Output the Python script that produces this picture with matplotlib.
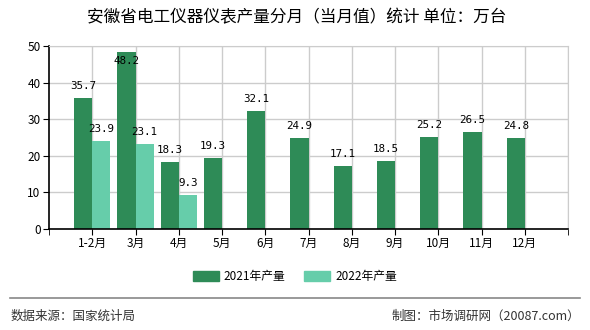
import numpy as np
import matplotlib.pyplot as plt
from matplotlib.patches import Patch

plt.rcParams['font.family'] = ['Noto Sans CJK SC', 'DejaVu Sans']

months = ['1-2月', '3月', '4月', '5月', '6月', '7月', '8月', '9月', '10月', '11月', '12月']
prod_2021 = [35.7, 48.2, 18.3, 19.3, 32.1, 24.9, 17.1, 18.5, 25.2, 26.5, 24.8]
prod_2022 = [23.9, 23.1, 9.3]

c21 = '#2e8b57'
c22 = '#66cdaa'
w = 0.42

fig = plt.figure(figsize=(5.9, 3.3), dpi=100)
ax = fig.add_axes([0.083, 0.306, 0.88, 0.555])

x = np.arange(len(months))
x22 = x[:len(prod_2022)]
# 2021 bars sit left of the tick, 2022 bars to the right
ax.bar(x, prod_2021, width=-w, align='edge', color=c21, zorder=2)
ax.bar(x22, prod_2022, width=w, align='edge', color=c22, zorder=2)


def put_labels(xs, vals, shift):
    for xi, v in zip(xs, vals):
        y = v + 3.3
        if y > 50:
            y = v - 2.4
        ax.text(xi + shift, y, f'{v:.1f}', ha='center', va='center',
                fontsize=7.8, family='DejaVu Sans Mono', zorder=3)


put_labels(x, prod_2021, -w / 2)
put_labels(x22, prod_2022, w / 2)

ax.set_xlim(-1, len(months))
ax.set_ylim(0, 50)
ax.set_yticks(np.arange(0, 51, 10))
ax.set_xticks(x)
ax.set_xticklabels(months, fontsize=8.5)
ax.set_xticks([-1, len(months)], minor=True)
ax.tick_params(axis='y', labelsize=8.5, length=4, pad=2)
ax.tick_params(axis='x', which='both', length=4, pad=2)

ax.grid(True, color='#cccccc', linewidth=1, zorder=0)
ax.axvline(len(months), color='#cccccc', linewidth=1, zorder=0)
ax.set_axisbelow(True)
for s in ['top', 'right']:
    ax.spines[s].set_color('#cccccc')
for s in ['left', 'bottom']:
    ax.spines[s].set_color('black')
    ax.spines[s].set_linewidth(1.2)

fig.text(0.503, 0.945, '安徽省电工仪器仪表产量分月（当月值）统计 单位：万台',
         ha='center', va='center', fontsize=12)

handles = [Patch(color=c21, label='2021年产量'), Patch(color=c22, label='2022年产量')]
fig.legend(handles=handles, loc='center', bbox_to_anchor=(0.5, 0.163), ncol=2,
           frameon=False, fontsize=8.5, handlelength=2.2, handleheight=0.9,
           handletextpad=0.4, columnspacing=1.6)

fig.add_artist(plt.Line2D([0.017, 0.983], [0.097, 0.097], color='#888888', linewidth=1.2))
fig.text(0.017, 0.042, '数据来源：国家统计局', fontsize=9, color='#333333', va='center')
fig.text(0.983, 0.042, '制图：市场调研网（20087.com）', fontsize=9, color='#333333',
         va='center', ha='right')

fig.savefig('out.png', dpi=100)
